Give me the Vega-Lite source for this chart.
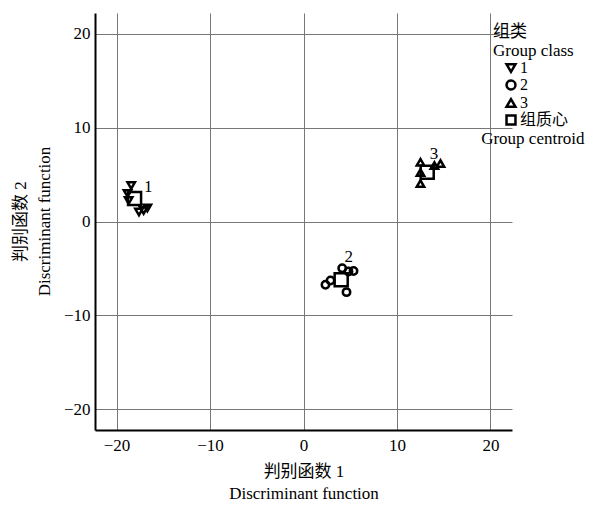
{
  "$schema": "https://vega.github.io/schema/vega-lite/v6.json",
  "autosize": {"type": "none"},
  "padding": {"left": 95, "top": 13, "right": 95, "bottom": 77},
  "width": 417,
  "height": 417,
  "background": "white",
  "config": {
    "font": "Liberation Serif, Noto Sans CJK SC",
    "view": {"stroke": null}
  },
  "datasets": {
    "pts": [
      {"f1": -18.43, "f2": 3.83, "group": "1"},
      {"f1": -18.82, "f2": 2.98, "group": "1"},
      {"f1": -18.7, "f2": 2.23, "group": "1"},
      {"f1": -17.6, "f2": 1.01, "group": "1"},
      {"f1": -17.1, "f2": 1.17, "group": "1"},
      {"f1": -16.7, "f2": 1.44, "group": "1"},
      {"f1": 4.14, "f2": -4.97, "group": "2"},
      {"f1": 2.35, "f2": -6.73, "group": "2"},
      {"f1": 2.89, "f2": -6.28, "group": "2"},
      {"f1": 4.6, "f2": -7.52, "group": "2"},
      {"f1": 5.35, "f2": -5.27, "group": "2"},
      {"f1": 4.81, "f2": -5.32, "group": "2"},
      {"f1": 12.51, "f2": 6.31, "group": "3"},
      {"f1": 12.51, "f2": 5.21, "group": "3"},
      {"f1": 12.51, "f2": 4.04, "group": "3"},
      {"f1": 14.65, "f2": 6.17, "group": "3"},
      {"f1": 14.0, "f2": 5.96, "group": "3"}
    ],
    "centroids": [
      {"f1": -18.07, "f2": 2.45, "group": "组质心"},
      {"f1": 4.03, "f2": -6.2, "group": "组质心"},
      {"f1": 13.23, "f2": 5.24, "group": "组质心"}
    ],
    "labels": [
      {"f1": -16.6, "f2": 3.7, "text": "1"},
      {"f1": 4.84, "f2": -3.8, "text": "2"},
      {"f1": 13.96, "f2": 7.2, "text": "3"}
    ],
    "note": [
      {"f1": 19.0, "f2": 8.75, "text": "Group centroid"}
    ]
  },
  "encoding": {
    "x": {
      "field": "f1", "type": "quantitative",
      "scale": {"domain": [-22.3, 22.3], "nice": false, "zero": false},
      "axis": {
        "values": [-20, -10, 0, 10, 20],
        "title": ["判别函数 1", "Discriminant function"],
        "grid": true, "gridColor": "#777", "gridWidth": 1,
        "domainColor": "black", "domainWidth": 2,
        "ticks": false, "labelPadding": 7,
        "labelFontSize": 17, "labelColor": "black",
        "titleFontSize": 17, "titleFontWeight": "normal", "titleColor": "black",
        "titleLineHeight": 22, "titleY": 33, "titleBaseline": "top"
      }
    },
    "y": {
      "field": "f2", "type": "quantitative",
      "scale": {"domain": [-22.2, 22.2], "nice": false, "zero": false},
      "axis": {
        "values": [-20, -10, 0, 10, 20],
        "title": ["判别函数 2", "Discriminant function"],
        "grid": true, "gridColor": "#777", "gridWidth": 1,
        "domainColor": "black", "domainWidth": 2,
        "ticks": false, "labelPadding": 5,
        "labelFontSize": 17, "labelColor": "black",
        "titleFontSize": 17, "titleFontWeight": "normal", "titleColor": "black",
        "titleLineHeight": 24, "titleX": -75, "titleY": 208,
        "titleAngle": -90, "titleAlign": "center", "titleBaseline": "middle"
      }
    },
    "shape": {
      "field": "group", "type": "nominal",
      "scale": {"domain": ["1", "2", "3", "组质心"], "range": ["triangle-down", "circle", "triangle-up", "square"]},
      "legend": {
        "orient": "none", "legendX": 398, "legendY": 11,
        "title": ["组类", "Group class"],
        "titleFontSize": 17, "titleFontWeight": "normal", "titleLineHeight": 19, "titleColor": "black",
        "titlePadding": 0, "padding": 0,
        "labelFontSize": 16, "labelColor": "black", "labelOffset": 1,
        "symbolStrokeColor": "black", "symbolStrokeWidth": 2.5, "symbolFillColor": "white",
        "symbolSize": 80, "symbolOffset": 10, "rowPadding": -4
      }
    }
  },
  "layer": [
    {
      "data": {"name": "pts"},
      "mark": {"type": "point", "filled": false, "color": "black", "strokeWidth": 2.5, "opacity": 1, "size": 55}
    },
    {
      "data": {"name": "centroids"},
      "mark": {"type": "point", "filled": false, "color": "black", "strokeWidth": 2.5, "opacity": 1, "size": 170}
    },
    {
      "data": {"name": "labels"},
      "mark": {"type": "text", "fontSize": 17, "color": "black", "align": "center", "baseline": "middle"},
      "encoding": {"text": {"field": "text"}, "shape": null}
    },
    {
      "data": {"name": "note"},
      "mark": {"type": "text", "fontSize": 17, "color": "black", "align": "left", "baseline": "middle"},
      "encoding": {"text": {"field": "text"}, "shape": null}
    }
  ]
}
